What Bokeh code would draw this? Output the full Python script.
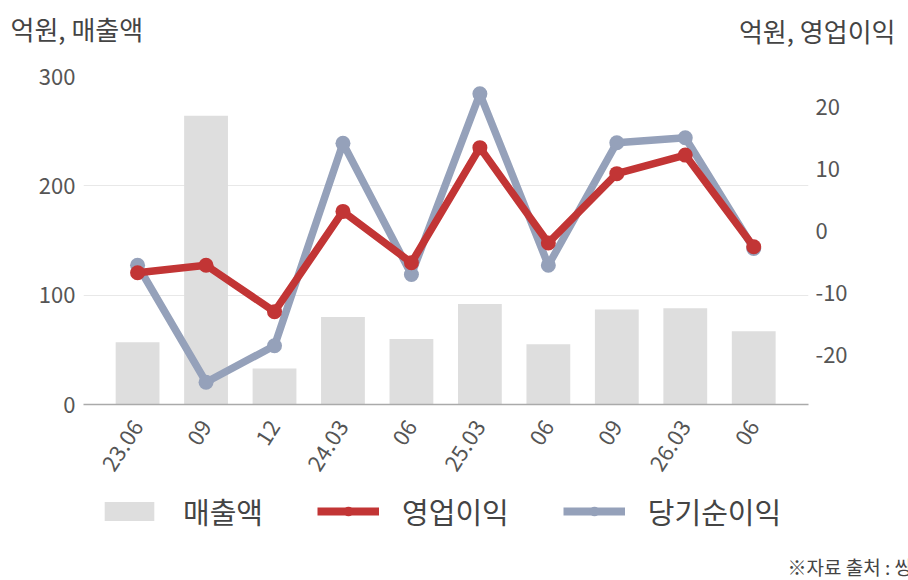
import math
from bokeh.plotting import figure
from bokeh.layouts import column, row
from bokeh.models import (Range1d, LinearAxis, FixedTicker, Legend, LegendItem,
                          ColumnDataSource)
from bokeh.core.properties import value
from bokeh.embed import file_html
from bokeh.resources import INLINE

categories = ["23.06", "09", "12", "24.03", "06", "25.03", "06", "09", "26.03", "06"]
sales = [57, 264, 33, 80, 60, 92, 55, 87, 88, 67]
op_profit = [-6.7, -5.5, -13.0, 3.2, -5.1, 13.5, -1.9, 9.3, 12.3, -2.5]
net_profit = [-5.5, -24.4, -18.5, 14.2, -7.0, 22.2, -5.5, 14.3, 15.1, -2.8]
series_names = ["매출액", "영업이익", "당기순이익"]
left_ticks = [0, 100, 200, 300]
right_ticks = [-20, -10, 0, 10, 20]
left_title = "억원, 매출액"
right_title = "억원, 영업이익"
source_note = "※자료 출처 : 씽크풀"

FONT = "Noto Sans CJK KR"
RED = "#c23535"
BLUE = "#95a1ba"
BAR = "#dedede"
TXT = "#444444"
TICK = "#555555"

W = 908
HEADER_H = 60
MAIN_H = 420
FOOTER_H = 580 - HEADER_H - MAIN_H


def blank(height):
    f = figure(width=W, height=height, x_range=Range1d(0, W), y_range=Range1d(0, height),
               output_backend="svg", toolbar_location=None, x_axis_type=None,
               y_axis_type=None, min_border=0)
    f.outline_line_color = None
    f.grid.visible = False
    return f


# header with the two axis captions
header = blank(HEADER_H)
header.text(x=[10], y=[HEADER_H - 28], text=[left_title], text_font=value(FONT),
            text_font_size="26px", text_color=TXT, text_align="left", text_baseline="middle")
header.text(x=[895], y=[HEADER_H - 30], text=[right_title], text_font=value(FONT),
            text_font_size="26px", text_color=TXT, text_align="right", text_baseline="middle")

# main chart
xs = list(range(len(categories)))
src = ColumnDataSource(dict(x=xs, sales=sales, op=op_profit, net=net_profit))

p = figure(width=W, height=MAIN_H, output_backend="svg", toolbar_location=None,
           x_range=Range1d(-0.79, 9.8), y_range=Range1d(0, 300),
           min_border_left=83, min_border_right=100, min_border_top=16,
           min_border_bottom=74)
p.extra_y_ranges = {"right": Range1d(-28.0, 25.0)}
p.outline_line_color = None

p.vbar(x="x", top="sales", width=0.64, source=src, fill_color=BAR, line_color=None)
p.line(x="x", y="net", source=src, y_range_name="right", line_color=BLUE, line_width=7.5)
p.scatter(x="x", y="net", source=src, y_range_name="right", size=15,
          fill_color=BLUE, line_color=None)
p.line(x="x", y="op", source=src, y_range_name="right", line_color=RED, line_width=7.5)
p.scatter(x="x", y="op", source=src, y_range_name="right", size=15,
          fill_color=RED, line_color=None)

xa = p.xaxis[0]
xa.ticker = FixedTicker(ticks=xs)
xa.major_label_overrides = {i: c for i, c in enumerate(categories)}
xa.major_label_orientation = math.radians(57)
xa.major_tick_line_color = None
xa.major_tick_out = 0
xa.minor_tick_line_color = None
xa.axis_line_color = "#aaaaaa"
xa.axis_line_width = 1.5
xa.major_label_text_font = FONT
xa.major_label_text_font_size = "22px"
xa.major_label_text_color = TICK
xa.major_label_standoff = 18

ya = p.yaxis[0]
ya.ticker = FixedTicker(ticks=left_ticks)
ya.axis_line_color = None
ya.major_tick_line_color = None
ya.major_tick_out = 0
ya.minor_tick_line_color = None
ya.major_label_text_font = FONT
ya.major_label_text_font_size = "22px"
ya.major_label_text_color = TICK
ya.major_label_standoff = 8

ra = LinearAxis(y_range_name="right", ticker=FixedTicker(ticks=right_ticks))
ra.major_label_overrides = {t: str(t) for t in right_ticks}
ra.axis_line_color = None
ra.major_tick_line_color = None
ra.major_tick_out = 0
ra.minor_tick_line_color = None
ra.major_label_text_font = FONT
ra.major_label_text_font_size = "22px"
ra.major_label_text_color = TICK
ra.major_label_standoff = 7
p.add_layout(ra, "right")

p.xgrid.grid_line_color = None
p.ygrid.ticker = FixedTicker(ticks=left_ticks[1:])
p.ygrid.grid_line_color = "#e8e8e8"
p.ygrid.grid_line_width = 1

# footer: legend and source note; the legend samples use the same data,
# mapped to an off-screen range so only their legend swatches show
footer = blank(FOOTER_H)
footer.extra_y_ranges = {"off": Range1d(1000, 2000)}
lb = footer.vbar(x="x", top="sales", width=0.64, source=src, y_range_name="off",
                 fill_color=BAR, line_color=None)
ll2 = footer.line(x="x", y="op", source=src, y_range_name="off", line_color=RED, line_width=8)
ls2 = footer.scatter(x="x", y="op", source=src, y_range_name="off", size=15,
                     fill_color=RED, line_color=None)
ll1 = footer.line(x="x", y="net", source=src, y_range_name="off", line_color=BLUE, line_width=8)
ls1 = footer.scatter(x="x", y="net", source=src, y_range_name="off", size=15,
                     fill_color=BLUE, line_color=None)
legend = Legend(items=[
    LegendItem(label=series_names[0], renderers=[lb]),
    LegendItem(label=series_names[1], renderers=[ll2, ls2]),
    LegendItem(label=series_names[2], renderers=[ll1, ls1]),
], orientation="horizontal", location=(98, FOOTER_H - 52))
legend.label_text_font = FONT
legend.label_text_font_size = "29px"
legend.label_text_color = TXT
legend.glyph_width = 62
legend.glyph_height = 24
legend.label_standoff = 23
legend.spacing = 54
legend.border_line_color = None
legend.background_fill_alpha = 0
legend.padding = 0
legend.margin = 0
footer.add_layout(legend, "center")

footer.text(x=[787], y=[14], text=[source_note], text_font=value(FONT),
            text_font_size="19px", text_color=TXT, text_align="left", text_baseline="middle")

layout = column(row(header), p, row(footer), spacing=0)
open("out.html", "w").write(file_html(layout, INLINE))
